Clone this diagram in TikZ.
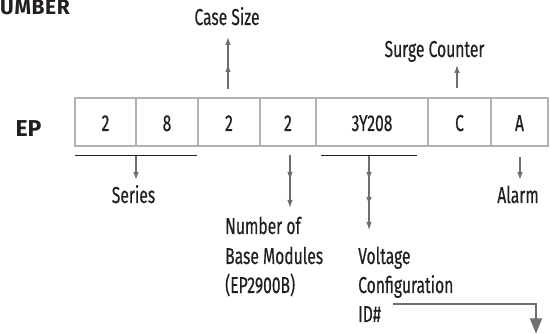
\documentclass[tikz,border=0pt]{standalone}
\usepackage{fontspec}
\setmainfont{Fira Sans}[FakeStretch=0.68,FakeBold=0.4]
\newfontfamily\headfont{Fira Sans}
\usetikzlibrary{arrows.meta,decorations.markings}
\definecolor{boxgray}{HTML}{B3B3B3}
\definecolor{arrgray}{HTML}{6D6E70}
\definecolor{ink}{HTML}{231F20}
\begin{document}
\begin{tikzpicture}[x=1pt,y=-1pt,
  font=\fontsize{23}{29}\selectfont,
  cell/.style={draw=boxgray, line width=2.2pt, fill=white, minimum height=48pt,
    text height=20pt, text depth=2pt, inner sep=0pt, text=ink},
  lbl/.style={inner sep=0pt, anchor=base, text=ink},
  lblw/.style={inner sep=0pt, anchor=base west, text=ink},
  arr/.style={draw, color=arrgray, line width=1.1pt, -{Latex[length=8pt,width=5.5pt]}},
  brk/.style={draw=ink, line width=1pt},
  midtip/.style={postaction={decorate, decoration={markings,
    mark=at position #1 with {\arrow{Latex[length=8pt,width=5.5pt]}}}}},
  midtips/.style 2 args={postaction={decorate, decoration={markings,
    mark=at position #1 with {\arrow{Latex[length=8pt,width=5.5pt]}},
    mark=at position #2 with {\arrow{Latex[length=8pt,width=5.5pt]}}}}}
]
\useasboundingbox (0,0) rectangle (550,334);

% heading
\node[lblw, font=\headfont\bfseries\fontsize{21}{23}\selectfont\addfontfeature{LetterSpace=3}] (head) at (0,14.5) {UMBER};
\node[lbl, font=\headfont\bfseries\fontsize{23}{25}\selectfont] (ep) at (28.5,137) {EP};

% cells
\node[cell, minimum width=61pt]  (c1) at (105.5,122) {2};
\node[cell, minimum width=62pt]  (c2) at (167,122)   {8};
\node[cell, minimum width=62pt]  (c3) at (229,122)   {2};
\node[cell, minimum width=56pt]  (c4) at (288,122)   {2};
\node[cell, minimum width=112pt] (c5) at (372,122)   {3Y208};
\node[cell, minimum width=63pt]  (c6) at (459.5,122) {C};
\node[cell, minimum width=57pt]  (c7) at (519.5,122) {A};

% labels
\node[lbl] (cs) at (227,25) {Case Size};
\node[lbl] (sc) at (434.5,57) {Surge Counter};
\node[lbl] (ser) at (133.5,203) {Series};
\node[lbl] (al) at (518,203) {Alarm};
\node[lblw] (nb1) at (225,234) {Number of};
\node[lblw] (nb2) at (225,264) {Base Modules};
\node[lblw] (nb3) at (225,293) {(EP2900B)};
\node[lblw] (vc1) at (358,264) {Voltage};
\node[lblw] (vc2) at (358,293) {Configuration};
\node[lblw] (vc3) at (358,322) {ID\#};

% coordinates
\coordinate (csA) at (228,89);  \coordinate (csB) at (228,37);
\coordinate (scA) at (457,88);  \coordinate (scB) at (457,65);
\coordinate (sbL) at (75,156);  \coordinate (sbR) at (197,156);
\coordinate (serA) at (136,156); \coordinate (serB) at (136,180);
\coordinate (nbA) at (290,155); \coordinate (nbB) at (290,208);
\coordinate (vbL) at (321,156); \coordinate (vbR) at (417,156);
\coordinate (vA) at (369,156);  \coordinate (vB) at (369,230);
\coordinate (alA) at (520,157); \coordinate (alB) at (520,180);
\coordinate (idA) at (393,304); \coordinate (idB) at (536,304); \coordinate (idC) at (536,333.5);

% brackets
\draw[brk] (sbL) -- (sbR);
\draw[brk] (vbL) -- (vbR);

% arrows
\draw[arr, midtip=25pt] (csA) -- (csB);
\draw[arr] (scA) -- (scB);
\draw[arr] (serA) -- (serB);
\draw[arr, midtip=25pt] (nbA) -- (nbB);
\draw[arr, midtips={24pt}{49pt}] (vA) -- (vB);
\draw[arr] (alA) -- (alB);
\draw[draw, color=arrgray, line width=1.1pt, -{Triangle[length=15pt,width=12pt]}] (idA) -- (idB) -- (idC);
\end{tikzpicture}
\end{document}
